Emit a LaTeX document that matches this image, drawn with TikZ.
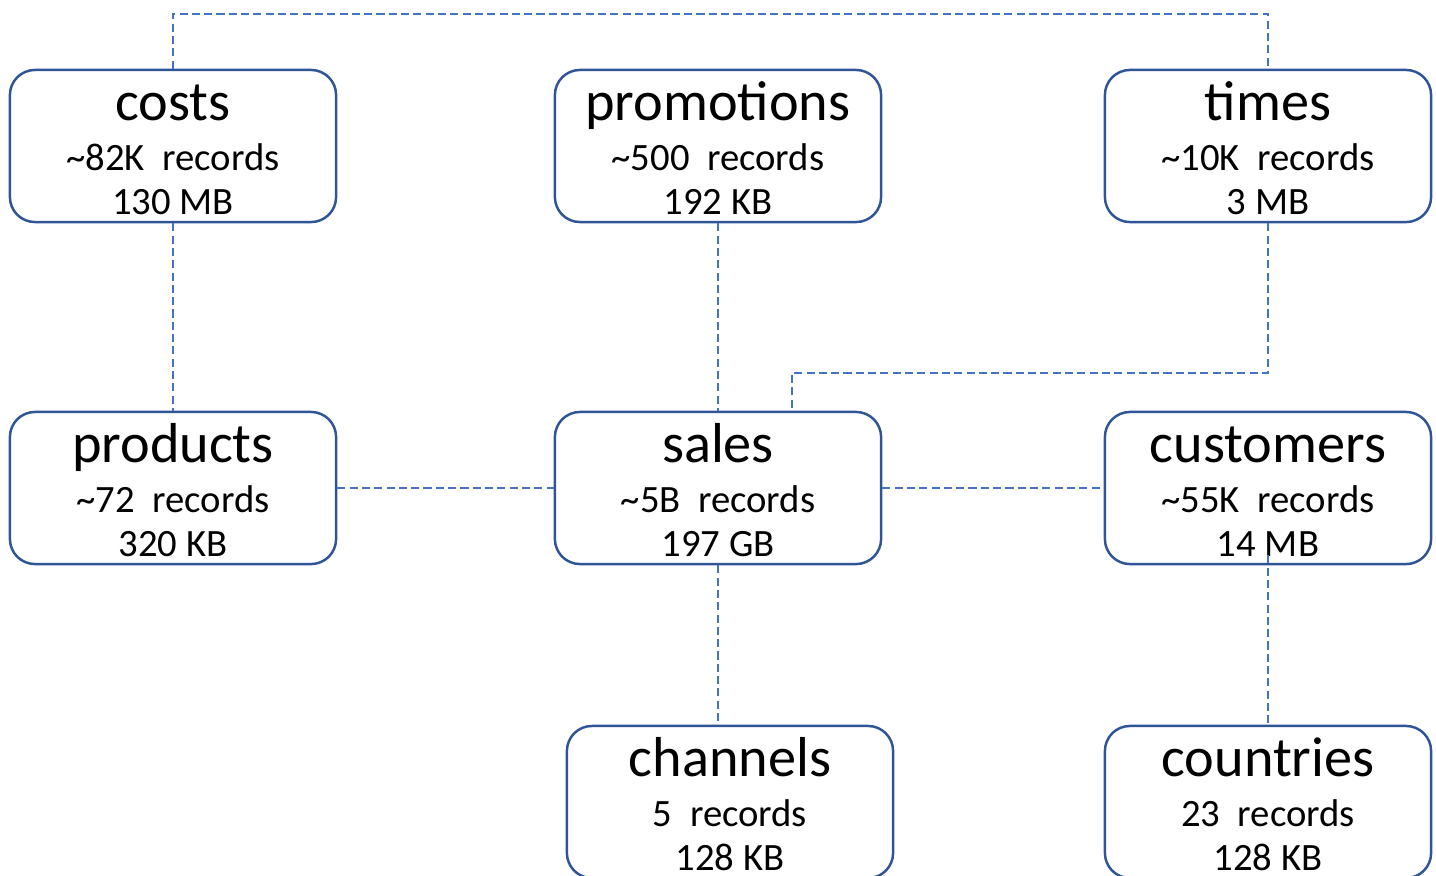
\documentclass[tikz,border=0pt]{standalone}
\usepackage{fontspec}
\setmainfont{Carlito}
\usetikzlibrary{positioning,calc}
\definecolor{boxline}{HTML}{2F5597}
\definecolor{linkline}{HTML}{4472C4}
\begin{document}
\begin{tikzpicture}[x=0.01cm,y=-0.01cm]
\tikzstyle{tbl}=[draw=boxline,line width=0.7pt,rounded corners=0.25cm,minimum width=3.26cm,minimum height=1.52cm,inner sep=0pt,align=center,font=\fontsize{11}{12.5}\selectfont]
\tikzstyle{link}=[draw=linkline,line width=0.7pt,dash pattern=on 2.3pt off 1.2pt]
\useasboundingbox (0,0) rectangle (1436,875);
\foreach \n/\x/\y/\r/\s in {costs/173/146/{\textasciitilde82K}/{130 MB},promotions/718/146/{\textasciitilde500}/{192 KB},times/1268/146/{\textasciitilde10K}/{3 MB},products/173/488/{\textasciitilde72}/{320 KB},sales/718/488/{\textasciitilde5B}/{197 GB},customers/1268/488/{\textasciitilde55K}/{14 MB},channels/730/802/{5}/{128 KB},countries/1268/802/{23}/{128 KB}}
  \node[tbl] (\n) at (\x,\y) {{\fontsize{16}{16}\selectfont\rule{0pt}{12.2pt}\n}\\[1.9pt] \r\ \ records\\ \s};
\coordinate (bend) at (792,373);
\draw[link] (costs.north) -- ++(0,-55) -| (times.north);
\draw[link] (costs.south) -- (products.north);
\draw[link] (promotions.south) -- (sales.north);
\draw[link] (times.south) |- (bend) -- (bend |- sales.north);
\draw[link] (products.east) -- (sales.west);
\draw[link] (sales.east) -- (customers.west);
\draw[link] (sales.south) -- (sales.south |- channels.north);
\draw[link] ($(customers.south)+(0,-10)$) -- (countries.north);
\end{tikzpicture}
\end{document}
